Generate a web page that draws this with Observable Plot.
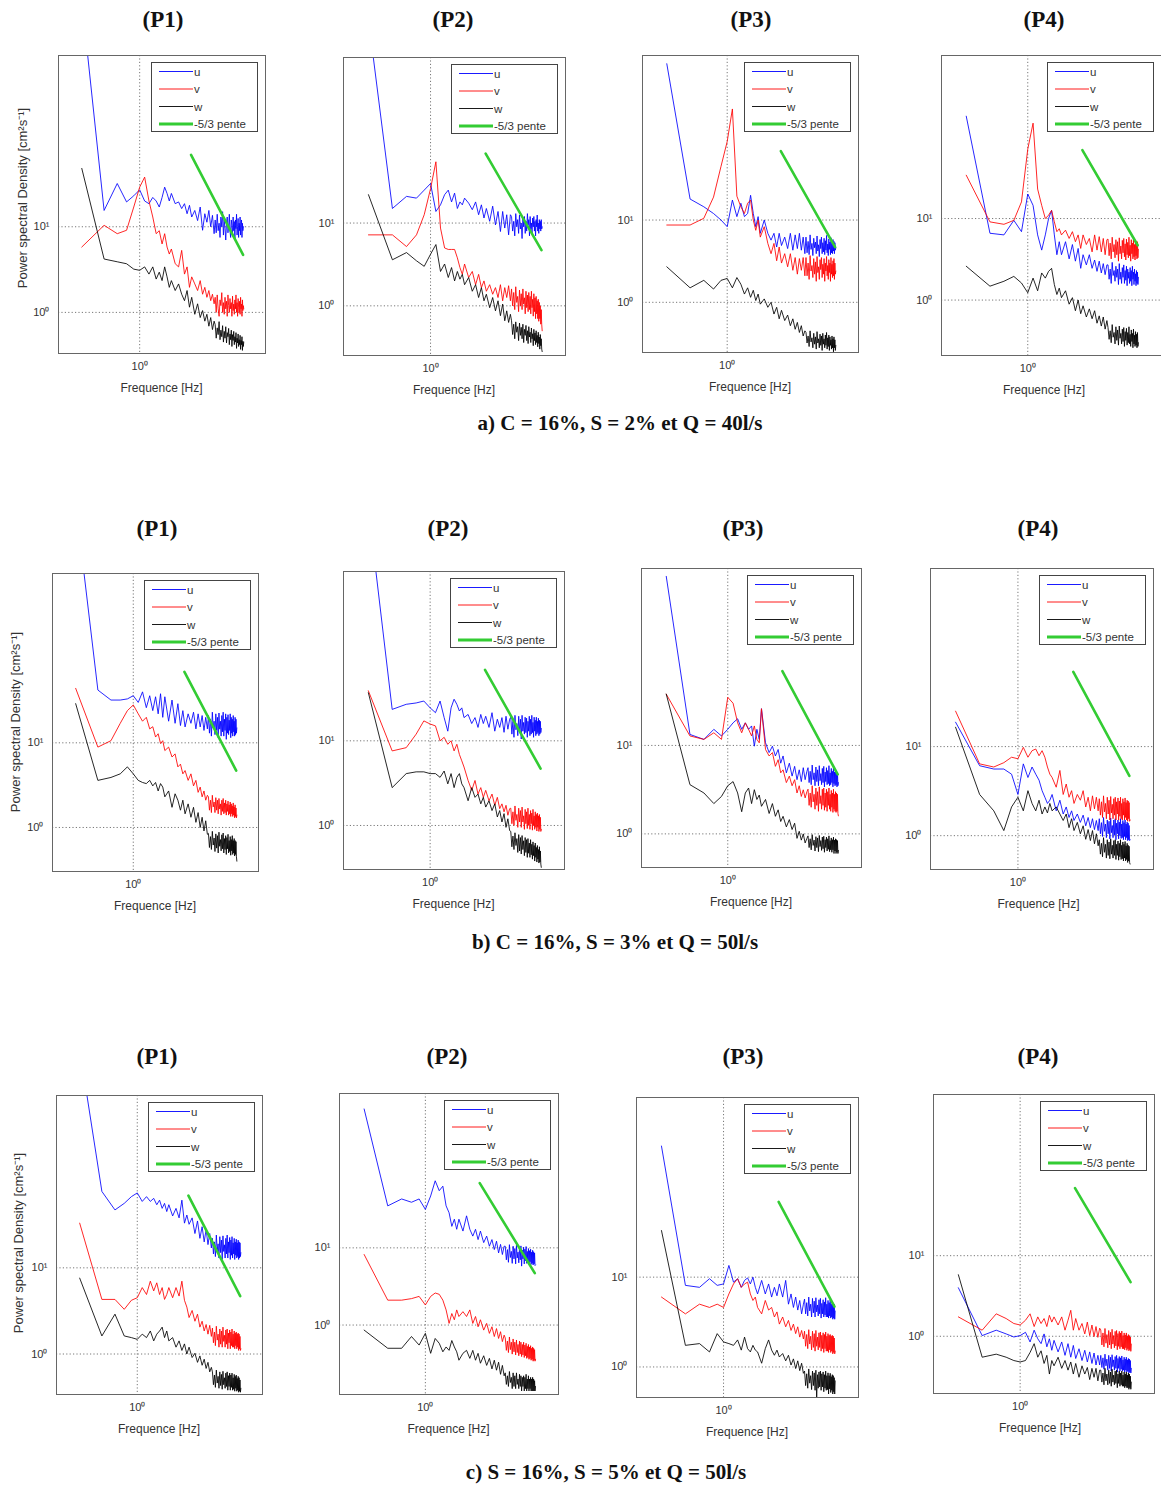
<!DOCTYPE html>
<html><head><meta charset="utf-8">
<script src="https://cdn.jsdelivr.net/npm/d3@7"></script>
<script src="https://cdn.jsdelivr.net/npm/@observablehq/plot@0.6"></script>
<style>
html,body{margin:0;padding:0;background:#fff;}
#root{position:relative;width:1161px;height:1488px;overflow:hidden;background:#fff;font-family:"Liberation Sans",Arial,sans-serif;}
.ptitle{position:absolute;font-family:"Liberation Serif","Times New Roman",serif;font-weight:bold;font-size:23px;color:#111;transform:translate(-50%,-50%);white-space:nowrap;}
.caption{position:absolute;font-family:"Liberation Serif","Times New Roman",serif;font-weight:bold;font-size:21px;color:#111;transform:translate(-50%,-50%);white-space:nowrap;}
.xlabel{position:absolute;font-size:12px;color:#333;transform:translate(-50%,-50%);white-space:nowrap;}
.ylabel{position:absolute;font-size:13px;color:#333;transform:translate(-50%,-50%) rotate(-90deg);white-space:nowrap;}
</style></head>
<body><div id="root"></div>
<script>
// ---------- DATA ----------
const FREQ = [0.167,0.333,0.5,0.667,0.833,1,1.167,1.333,1.5,1.667,1.833,2,2.167,2.333,2.5,2.667,
  3,3.333,3.667,4,4.333,4.667,5,
  5.5,6,6.5,7,7.5,8,8.5,9,9.5,10,
  10.333,10.667,11,11.333,11.667,12,12.333,12.667,13,13.333,13.667,14,14.333,14.667,15,15.333,15.667,16,16.333,16.667,17,17.333,17.667,18,18.333,18.667,19,19.333,19.667,20,20.333,20.667,21,21.333,21.667,22,22.333,22.667,23,23.333,23.667,24,24.333,24.667,25];

const SERIES_NAMES = ["u", "v", "w"];
const SLOPE_LABEL = "-5/3 pente";
const GREEN_F = [4.9, 24.5];
const GREEN_PSD = [69, 4.7];

const PANEL_TITLES = ["(P1)", "(P2)", "(P3)", "(P4)"];
const ROW_CAPTIONS = ["a) C = 16%, S = 2% et Q = 40l/s", "b) C = 16%, S = 3% et Q = 50l/s", "c) S = 16%, S = 5% et Q = 50l/s"];
const X_LABEL = "Frequence [Hz]";
const Y_LABEL = "Power spectral Density [cm²s⁻¹]";
const X_TICKS = [1];
const Y_TICKS = [1, 10];
const TICK_TEXT = {1: "10⁰", 10: "10¹"};

// Row a
const A1_U = [4500,15.5,32,19.5,23,27, 20,18.6,22,20,17,22,29,24.5,20,24.5, 18.6,19.5,16.3,18.6,14.2,17.8,13, 15.5,11.8,17,9.1,14.2,11.3,15.5,10,13.6,8.3,
  12,8.5,14,9,11,7.5,13,10,15,8, 12,9.5,7,11,13,8.5,10,14,9,7.5, 12,10.5,8,13,9,11.5,7,12,9.5,14, 8,10,12.5,7.5,11,9,13,8,10.5,12, 7.5,11,9,10,10];
const A1_V = [5.8,10.4,8.3,9.1,17,29, 38,20,13,8.3,9,6.3,8.3,5.8,4.8,5.5, 3.7,3.4,5.3,2.8,3.4,1.96,2.6, 2.15,1.8,2.35,1.63,1.96,1.5,1.8,1.37,1.63,1.26,
  1.5,1.0,1.6,1.1,0.9,1.4,1.2,1.7,1.0,1.3, 0.95,1.5,1.1,1.35,0.9,1.6,1.2,1.0,1.45,1.1, 1.3,0.9,1.55,1.05,1.25,0.95,1.4,1.1,1.6,1.0, 1.3,0.9,1.45,1.15,1.0,1.35,0.95,1.5,1.1,1.25, 0.9,1.4,1.05,1.2,1.1];
const A1_W = [48,4.2,3.9,3.7,3.2,3.1, 3.4,2.8,3.4,2.45,2.95,2.35,3.4,2.6,1.96,2.35, 1.8,2.15,1.63,1.37,1.8,1.15,1.5, 0.95,1.26,0.87,1.05,0.79,0.95,0.69,0.87,0.63,0.79,
  0.72,0.5,0.66,0.55,0.78,0.48,0.62,0.52,0.7,0.45, 0.6,0.5,0.68,0.44,0.58,0.52,0.65,0.42,0.56,0.48, 0.62,0.4,0.55,0.47,0.6,0.42,0.52,0.45,0.58,0.38, 0.5,0.44,0.56,0.4,0.48,0.42,0.54,0.37,0.47,0.42, 0.52,0.36,0.46,0.4,0.45];

const A2_U = [2900,15,21,20,25,30, 13.8,16.6,22,25,18,23,15,18,16.6,20, 17.4,14.5,18,12.6,16.6,11.5,15, 10.5,16,9.5,13.8,7.9,13.8,8.7,12.6,7.2,12.6,
  12,8,10.5,7,13,9,11,7.5,12.5,8.5, 10,6.5,11.5,9,12,7.5,10.5,8,13,9.5, 11,7,12,8.5,10,7.5,11.5,9,12,8, 10.5,7,11,9,12.5,8,10,7.5,11,8.5, 10.5,8,11,8.5,9];
const A2_V = [7.2,7.2,5.2,7.2,12.6,26, 55,8.7,5.0,4.8,4.8,4.8,3.8,2.9,2.4,3.2, 2.2,2.6,1.8,2.4,1.66,2.0,1.5, 1.8,1.38,1.66,1.26,1.8,1.15,1.66,1.26,1.75,1.15,
  1.6,1.0,1.45,0.9,1.7,1.1,1.3,0.85,1.55,1.0, 1.4,0.9,1.6,1.05,1.25,0.8,1.5,0.95,1.35,0.85, 1.45,0.9,1.3,0.8,1.5,0.95,1.2,0.75,1.4,0.85, 1.25,0.7,1.3,0.8,1.15,0.7,1.2,0.65,1.1,0.7, 1.0,0.6,0.9,0.6,0.5];
const A2_W = [22,3.6,4.4,3.5,3.0,4.2, 5.5,2.6,3.2,2.2,2.9,2.0,2.6,2.1,2.4,1.8, 2.2,1.5,1.8,1.26,1.66,1.15,1.38, 0.95,1.26,0.87,1.15,0.76,1.05,0.66,0.87,0.63,0.79,
  0.66,0.45,0.6,0.4,0.64,0.48,0.56,0.38,0.62,0.44, 0.55,0.4,0.6,0.36,0.52,0.44,0.58,0.38,0.5,0.35, 0.56,0.42,0.48,0.36,0.54,0.4,0.46,0.33,0.52,0.38, 0.47,0.34,0.5,0.36,0.44,0.32,0.48,0.35,0.42,0.3, 0.45,0.33,0.4,0.3,0.28];

const A3_U = [794,18,14.5,12,10,8.3, 17.5,11,16,11,12,20,12,8.3,11,6.9, 10,6.9,5.7,6.9,4.7,6.9,4.9, 6.2,4.5,6.9,4.3,6.6,4.5,6.9,4.3,6.2,3.9,
  6.2,4.0,5.5,3.8,6.6,4.4,5.2,3.7,6.0,4.6, 5.4,3.9,6.4,4.2,5.0,3.6,5.8,4.5,6.2,3.9, 5.3,4.1,6.0,3.8,5.6,4.3,6.5,4.0,5.1,3.7, 5.9,4.4,5.4,3.8,6.1,4.0,5.2,3.9,5.8,4.2, 5.5,3.9,5.3,4.3,4.6];
const A3_V = [8.7,8.7,10.5,19,45,90, 224,19.5,14.5,12,16,17.5,10,7.5,10,6.2, 8.3,5.2,3.9,5.2,3.2,4.7,3.0, 3.9,2.7,3.9,2.45,3.5,2.2,3.4,2.45,3.5,2.1,
  3.5,2.1,3.0,1.9,3.7,2.4,2.8,2.0,3.4,2.2, 3.1,1.8,3.6,2.3,2.7,1.9,3.3,2.5,3.5,2.0, 2.9,2.2,3.4,1.8,3.0,2.4,3.6,2.1,2.8,1.9, 3.3,2.3,3.0,1.8,3.5,2.2,2.9,2.0,3.2,2.1, 3.4,1.9,3.0,2.2,2.4];
const A3_W = [2.7,1.5,1.85,1.45,1.85,1.95, 1.5,2.0,1.66,1.26,1.5,1.15,1.4,1.05,1.26,0.95, 1.1,0.87,1.0,0.72,0.87,0.63,0.8, 0.6,0.7,0.52,0.63,0.47,0.57,0.43,0.52,0.39,0.45,
  0.43,0.32,0.39,0.29,0.45,0.33,0.37,0.28,0.42,0.31, 0.38,0.27,0.44,0.32,0.36,0.28,0.41,0.3,0.39,0.26, 0.42,0.31,0.36,0.28,0.4,0.3,0.43,0.27,0.37,0.29, 0.4,0.26,0.38,0.3,0.35,0.27,0.39,0.28,0.36,0.25, 0.38,0.28,0.35,0.26,0.3];

const A4_U = [180,6.6,6.3,9.5,6.9,20, 14.5,6.3,4.1,6.3,10,12.6,6.3,3.6,5.2,3.6, 5.2,3.2,4.8,3.0,4.3,2.45,3.6, 2.7,3.6,2.45,3.1,2.25,3.0,2.15,2.8,2.05,2.7,
  2.7,1.8,2.4,1.6,2.9,2.0,2.3,1.7,2.6,1.9, 2.4,1.55,2.8,1.8,2.2,1.6,2.5,1.9,2.7,1.6, 2.3,1.75,2.6,1.5,2.4,1.85,2.2,1.6,2.5,1.7, 2.3,1.5,2.6,1.8,2.2,1.55,2.4,1.7,2.1,1.5, 2.3,1.6,2.2,1.55,1.9];
const A4_V = [34,9.1,8.5,9.5,16,71, 148,23,14.5,10,11,12.6,9.1,6.9,7.5,6.3, 7.2,5.7,6.9,5.2,6.3,4.3,6.3, 4.8,5.7,3.9,6.3,4.1,6.0,3.9,5.7,3.6,5.5,
  5.6,3.5,5.0,3.2,5.9,3.9,4.8,3.3,5.5,3.6, 5.2,3.0,5.8,3.7,4.6,3.2,5.4,3.8,5.7,3.4, 4.9,3.1,5.6,3.6,5.1,3.3,5.9,3.5,4.7,3.0, 5.5,3.7,5.0,3.2,5.6,3.4,4.8,3.1,5.3,3.5, 5.0,3.2,5.2,3.3,4.2];
const A4_W = [2.6,1.48,1.7,1.95,1.62,1.23, 1.86,1.3,2.15,1.86,2.25,2.45,1.55,1.17,1.4,1.07, 1.3,0.89,1.07,0.74,1.0,0.68,0.85, 0.62,0.78,0.59,0.74,0.52,0.64,0.48,0.62,0.44,0.56,
  0.46,0.33,0.42,0.3,0.5,0.35,0.4,0.29,0.47,0.32, 0.43,0.28,0.48,0.34,0.39,0.29,0.44,0.31,0.46,0.27, 0.41,0.32,0.45,0.28,0.4,0.3,0.47,0.29,0.38,0.27, 0.43,0.31,0.39,0.26,0.44,0.29,0.37,0.27,0.41,0.28, 0.38,0.26,0.4,0.27,0.3];

// Row b
const B1_U = [6800,42,32,32,33,36, 30,40,26,36,24,35,22,38,20,35, 18,32,17,29,16,24,15.4, 22,17,23,14.6,22,15.4,21,14,20,14.6,
  21,13,19,12,23,15,18,12.5,22,14, 20,11.5,22.5,14.5,18,12,21,13.5,23,12, 19,14,22,11,20,13,21.5,12.5,18.5,14, 22,11.5,20,13,19,12,21,13.5,18,12, 20,12.5,19,13,15];
const B1_V = [44,8.9,10.6,17,24,28, 22,18,20,14.6,15.5,11.7,12.8,9.8,10.6,8.1, 8.9,6.8,7.4,5.2,5.6,4.3,4.7, 3.6,4.3,3.1,3.6,2.6,3.0,2.3,2.7,2.1,2.4,
  2.3,1.6,2.1,1.5,2.4,1.75,2.0,1.5,2.25,1.6, 2.1,1.45,2.2,1.65,1.9,1.4,2.1,1.55,2.2,1.45, 1.95,1.5,2.1,1.4,1.9,1.55,2.05,1.4,1.85,1.45, 2.0,1.35,1.9,1.45,1.8,1.35,1.95,1.4,1.75,1.3, 1.85,1.35,1.7,1.3,1.4];
const B1_W = [29,3.6,3.9,4.3,5.2,4.3, 3.6,3.4,3.3,3.6,3.1,3.4,2.7,3.3,3.0,2.3, 2.7,1.73,2.5,2.1,1.6,2.1,1.45, 1.9,1.32,1.73,1.15,1.5,1.0,1.32,0.91,1.2,0.83,
  0.85,0.58,0.78,0.55,0.9,0.62,0.75,0.52,0.84,0.57, 0.8,0.5,0.88,0.6,0.72,0.53,0.82,0.56,0.86,0.5, 0.74,0.55,0.8,0.48,0.76,0.56,0.83,0.5,0.7,0.52, 0.78,0.47,0.72,0.53,0.8,0.48,0.7,0.5,0.74,0.46, 0.7,0.48,0.68,0.45,0.4];

const B2_U = [5700,23.5,27,28,29.5,24.5, 21.5,29.5,18.8,13,24.5,31,27,22.5,24.5,18.8, 20.5,16,18.8,14.4,20.5,16,19.5, 14.4,21.5,13,18,14.4,18.8,12.6,19.5,13.7,18,
  19,12,17,11,20,13.5,16,11.5,19.5,12.5, 18,10.5,20,13,16.5,12,19,12.5,18.5,11, 17,13,19.5,11.5,18,12,20,12.5,16.5,11, 19,13,17.5,11.5,19,12,17,12.5,18.5,11.5, 17.5,12,17,12.5,14];
const B2_V = [39,7.6,8.3,12,17.2,15.8, 15,10,11,9.1,10,7.6,9.1,6.9,5.8,4.9, 3.4,2.6,3.4,2.35,2.8,2.15,2.6, 1.96,2.35,1.73,2.15,1.58,1.8,1.45,1.73,1.32,1.58,
  1.6,1.05,1.45,1.0,1.7,1.15,1.35,0.95,1.6,1.1, 1.5,0.95,1.65,1.1,1.3,0.9,1.55,1.05,1.45,0.92, 1.6,1.0,1.35,0.9,1.5,1.05,1.4,0.88,1.55,1.0, 1.3,0.9,1.45,0.95,1.35,0.86,1.4,0.95,1.3,0.85, 1.35,0.9,1.25,0.85,0.9];
const B2_W = [37,2.8,4.1,4.3,4.3,4.1, 4.1,3.7,4.4,3.1,4.1,2.8,3.7,4.1,3.1,2.8, 1.96,2.8,2.15,2.35,1.8,2.15,1.65, 1.96,1.5,1.8,1.26,1.5,1.1,1.38,0.95,1.2,0.87,
  0.85,0.56,0.75,0.52,0.82,0.58,0.7,0.48,0.78,0.5, 0.72,0.46,0.76,0.52,0.66,0.44,0.72,0.48,0.68,0.42, 0.7,0.47,0.62,0.42,0.68,0.45,0.6,0.4,0.64,0.44, 0.58,0.38,0.62,0.42,0.55,0.37,0.58,0.4,0.52,0.36, 0.56,0.37,0.5,0.35,0.32];

const B3_U = [815,13.3,11.7,15.2,12.8,15.2, 18,20,15.2,18,15.2,16.6,9.8,15.2,11.7,26, 10.7,8.3,9.8,7.6,9.0,6.3,7.6, 4.9,6.3,4.5,5.8,4.1,5.3,3.9,5.6,4.1,5.1,
  5.6,3.8,5.1,3.6,6.0,4.1,4.9,3.5,5.7,3.9, 5.3,3.5,5.9,4.0,4.8,3.6,5.5,3.8,5.8,3.4, 5.0,3.9,5.6,3.6,5.2,3.7,5.9,3.5,4.9,3.6, 5.5,3.8,5.1,3.4,5.7,3.7,5.0,3.5,5.4,3.6, 5.1,3.4,5.0,3.5,3.8];
const B3_V = [38,12.8,11.7,13.9,11.7,35, 30,18,13.9,18,15.2,12.8,16.6,11.7,10.7,26, 9.0,7.6,8.3,5.8,6.9,4.9,5.3, 3.8,4.5,3.5,4.1,2.9,3.5,2.65,3.15,2.55,3.0,
  3.2,2.1,2.9,2.0,3.5,2.3,2.8,1.9,3.3,2.1, 3.0,1.8,3.4,2.2,2.7,1.9,3.2,2.1,3.3,1.85, 2.9,2.0,3.2,1.8,3.0,2.1,3.3,1.9,2.8,1.8, 3.1,2.0,2.9,1.75,3.2,1.9,2.8,1.8,3.0,1.75, 2.9,1.8,2.8,1.7,1.6];
const B3_W = [38,3.6,2.9,2.2,2.65,3.5, 3.9,2.9,1.78,2.9,3.3,2.2,3.16,2.45,2.75,2.05, 2.45,1.7,2.2,1.58,1.87,1.38,1.58, 1.2,1.45,1.12,1.32,0.89,1.07,0.85,1.0,0.79,0.89,
  0.95,0.7,0.88,0.66,0.98,0.74,0.85,0.64,0.93,0.7, 0.9,0.63,0.96,0.72,0.84,0.65,0.92,0.68,0.94,0.62, 0.86,0.7,0.92,0.64,0.88,0.67,0.95,0.63,0.84,0.66, 0.9,0.62,0.86,0.66,0.92,0.6,0.85,0.64,0.88,0.6, 0.86,0.62,0.84,0.6,0.65];

const B4_U = [18.8,6.1,5.6,5.6,4.9,2.9, 6.4,4.5,5.9,4.9,4.2,3.2,2.7,2.3,2.5,2.9, 1.9,2.5,1.75,2.1,1.6,1.9,1.48, 1.75,1.41,1.7,1.29,1.6,1.23,1.55,1.17,1.48,1.14,
  1.55,1.05,1.4,0.98,1.6,1.12,1.35,0.95,1.5,1.05, 1.45,0.92,1.58,1.08,1.3,0.95,1.5,1.02,1.55,0.9, 1.38,1.05,1.5,0.92,1.42,1.0,1.55,0.93,1.35,0.95, 1.48,0.9,1.4,0.98,1.5,0.9,1.35,0.95,1.42,0.88, 1.38,0.9,1.3,0.88,0.9];
const B4_V = [25,6.4,5.9,6.6,7.6,7.3, 9.8,7.6,9.0,9.4,7.9,9.0,7.6,5.9,4.9,4.5, 3.5,5.4,2.9,3.8,2.7,3.2,2.3, 2.9,2.5,3.2,2.1,2.7,1.9,2.8,2.0,2.7,1.9,
  2.6,1.7,2.4,1.6,2.8,1.85,2.3,1.55,2.7,1.75, 2.5,1.5,2.75,1.8,2.25,1.55,2.6,1.7,2.7,1.5, 2.4,1.75,2.65,1.5,2.45,1.65,2.7,1.55,2.3,1.5, 2.6,1.7,2.4,1.5,2.65,1.6,2.35,1.5,2.5,1.45, 2.45,1.55,2.35,1.45,1.5];
const B4_W = [16.5,2.9,1.9,1.14,2.1,2.7, 1.9,3.2,2.3,1.9,2.5,1.75,2.1,1.8,2.3,1.9, 2.1,1.75,1.48,1.75,1.23,1.55,1.14, 1.41,1.05,1.29,0.91,1.17,0.88,1.14,0.81,1.05,0.77,
  0.9,0.62,0.82,0.58,0.95,0.65,0.8,0.56,0.9,0.6, 0.85,0.55,0.92,0.62,0.78,0.56,0.88,0.6,0.9,0.54, 0.8,0.6,0.87,0.53,0.82,0.58,0.9,0.54,0.78,0.55, 0.85,0.52,0.8,0.56,0.86,0.52,0.77,0.54,0.82,0.5, 0.78,0.52,0.76,0.5,0.48];

// Row c
const C1_U = [3500,77,47,56,67,74, 59,67,59,64,54,61,49,56,45,54, 40,49,38,61,33,41,32, 38,25,35,22,30,20,28,18.6,25,17,
  22,14.5,20,13.5,24,16,19,13,23,15, 21,12.5,23.5,15.5,18.5,13,22,14.5,24,13, 20,15,22.5,12.5,21,14,23,13,19.5,14.5, 22,12.5,20,14,21.5,13,19.5,13.5,21,12.5, 20,13,19.5,13.5,15];
const C1_V = [33,4.3,4.3,3.3,4.2,4.5, 5.9,4.9,7.0,5.4,6.7,4.9,5.9,4.3,4.9,5.9, 4.5,5.9,4.7,7.0,4.2,3.5,2.65, 3.2,2.4,2.9,2.05,2.4,1.85,2.2,1.7,2.15,1.6,
  2.0,1.35,1.8,1.25,2.1,1.45,1.7,1.2,1.95,1.3, 1.85,1.2,2.05,1.4,1.65,1.2,1.9,1.3,1.95,1.15, 1.75,1.35,1.9,1.15,1.8,1.25,1.95,1.2,1.7,1.2, 1.85,1.15,1.75,1.25,1.8,1.15,1.7,1.2,1.75,1.1, 1.7,1.15,1.6,1.1,1.15];
const C1_W = [7.6,1.62,2.9,1.62,1.55,1.48, 1.7,1.55,1.85,1.42,1.7,1.85,2.05,1.55,1.85,1.42, 1.55,1.2,1.42,1.1,1.31,1.0,1.2, 0.91,1.02,0.8,0.95,0.74,0.87,0.68,0.8,0.62,0.7,
  0.62,0.44,0.57,0.41,0.65,0.46,0.55,0.4,0.62,0.43, 0.58,0.39,0.63,0.44,0.53,0.4,0.6,0.42,0.62,0.38, 0.56,0.42,0.6,0.38,0.57,0.41,0.6,0.38,0.53,0.39, 0.58,0.37,0.55,0.4,0.57,0.37,0.52,0.38,0.55,0.36, 0.53,0.37,0.5,0.36,0.4];

const C2_U = [630,35,43,39,43,31.5, 47,74,55,63,35,28.5,19,23.5,17.4,23.5, 16.5,26,17.4,14.2,17.4,12.8,16.5, 11.7,14.2,10.5,12.8,9.5,12.2,8.6,11.1,8.2,10.5,
  10.5,7,9.5,6.5,11,7.5,9,6.3,10.5,7.2, 9.8,6.2,10.8,7.4,8.8,6.4,10.2,7,10.6,5.8, 9.4,7.2,10.2,6.2,9.6,6.8,10.4,6.3,9,6.5, 9.8,6.1,9.2,6.6,9.6,6.1,8.8,6.3,9.3,6, 8.9,6.2,8.6,5.9,6];
const C2_V = [8.2,2.1,2.1,2.2,2.35,1.82, 2.35,2.6,2.5,2.1,1.57,1.05,1.41,1.17,1.57,1.29, 1.49,1.29,1.57,1.05,1.29,0.95,1.17, 0.86,1.05,0.78,0.95,0.71,0.9,0.67,0.82,0.61,0.74,
  0.68,0.47,0.62,0.44,0.7,0.48,0.6,0.42,0.66,0.45, 0.6,0.41,0.64,0.44,0.56,0.4,0.62,0.42,0.6,0.39, 0.56,0.41,0.6,0.38,0.55,0.4,0.58,0.37,0.53,0.38, 0.56,0.36,0.52,0.37,0.54,0.35,0.5,0.36,0.52,0.34, 0.5,0.35,0.48,0.34,0.36];
const C2_W = [0.86,0.5,0.5,0.71,0.55,0.78, 0.43,0.67,0.58,0.45,0.52,0.47,0.63,0.52,0.45,0.35, 0.43,0.47,0.37,0.47,0.35,0.43,0.32, 0.4,0.3,0.37,0.27,0.35,0.26,0.33,0.23,0.3,0.22,
  0.24,0.17,0.22,0.16,0.25,0.18,0.21,0.15,0.24,0.16, 0.22,0.15,0.24,0.17,0.2,0.15,0.23,0.16,0.22,0.14, 0.21,0.16,0.22,0.14,0.21,0.15,0.23,0.14,0.2,0.15, 0.22,0.14,0.2,0.15,0.21,0.14,0.2,0.14,0.21,0.14, 0.2,0.14,0.19,0.14,0.16];

const C3_U = [288,8.1,7.7,9.6,8.1,8.4, 13.5,8.8,9.6,7.7,9.2,9.8,8.4,10,7.7,6.5, 9.2,6.5,8.4,6.0,7.7,6.2,8.4, 6.0,9.2,5.0,6.5,4.6,6.0,4.3,5.5,3.9,5.0,
  5.7,3.9,5.2,3.7,6.0,4.2,5.0,3.6,5.8,4.0, 5.4,3.6,5.9,4.1,4.9,3.7,5.6,3.9,5.8,3.5, 5.1,3.9,5.6,3.6,5.3,3.8,5.9,3.6,5.0,3.6, 5.5,3.5,5.2,3.7,5.6,3.5,5.0,3.6,5.3,3.4, 5.1,3.5,5.0,3.4,4.2];
const C3_V = [6.0,3.9,5.0,4.6,5.0,4.6, 6.5,8.4,9.6,7.7,8.4,8.8,6.5,5.5,6.0,4.6, 3.9,5.5,4.3,4.6,3.6,4.1,3.0, 3.6,2.8,3.3,2.55,3.0,2.35,2.8,2.15,2.55,2.05,
  2.5,1.7,2.3,1.6,2.6,1.8,2.2,1.55,2.5,1.65, 2.35,1.5,2.55,1.7,2.15,1.55,2.4,1.65,2.45,1.5, 2.25,1.6,2.4,1.45,2.3,1.6,2.45,1.5,2.2,1.5, 2.35,1.45,2.25,1.55,2.3,1.45,2.2,1.5,2.25,1.4, 2.2,1.45,2.1,1.4,1.5];
const C3_W = [33,1.74,1.82,1.47,2.35,1.9, 1.82,1.74,2.0,1.54,2.15,1.6,1.47,1.74,1.54,1.47, 1.1,1.6,2.0,1.54,1.35,1.54,1.29, 1.41,1.17,1.35,1.05,1.23,0.96,1.17,0.91,1.1,0.85,
  0.9,0.62,0.84,0.58,0.95,0.66,0.8,0.56,0.9,0.62, 0.86,0.55,0.92,0.45,0.82,0.58,0.88,0.6,0.9,0.55, 0.84,0.6,0.88,0.53,0.82,0.58,0.9,0.55,0.8,0.56, 0.86,0.5,0.8,0.57,0.85,0.52,0.78,0.55,0.82,0.5, 0.8,0.53,0.76,0.5,0.7];

const C4_U = [4.0,1.02,1.19,1.07,0.98,1.02, 1.12,0.85,1.19,0.93,0.81,1.07,0.74,0.93,0.67,0.89, 0.64,0.85,0.58,0.81,0.55,0.77,0.53, 0.7,0.5,0.67,0.48,0.64,0.46,0.62,0.44,0.58,0.44,
  0.58,0.41,0.54,0.39,0.6,0.43,0.52,0.38,0.58,0.4, 0.55,0.37,0.59,0.42,0.51,0.38,0.56,0.4,0.58,0.36, 0.53,0.4,0.56,0.37,0.54,0.39,0.57,0.37,0.51,0.38, 0.55,0.36,0.52,0.38,0.55,0.36,0.51,0.37,0.53,0.35, 0.52,0.36,0.5,0.35,0.4];
const C4_V = [1.74,1.19,1.9,1.66,1.44,1.38, 1.58,1.9,1.32,1.74,1.44,1.66,1.32,1.82,1.5,1.74, 1.38,1.74,1.19,1.58,2.1,1.19,1.66, 1.19,1.44,1.07,1.5,1.02,1.38,0.99,1.32,0.97,1.26,
  1.2,0.78,1.1,0.74,1.25,0.82,1.05,0.72,1.18,0.78, 1.12,0.7,1.22,0.8,1.02,0.72,1.15,0.76,1.18,0.68, 1.08,0.75,1.15,0.7,1.1,0.74,1.16,0.7,1.02,0.7, 1.1,0.68,1.04,0.72,1.1,0.67,1.0,0.7,1.05,0.66, 1.02,0.68,0.98,0.65,0.8];
const C4_W = [5.8,0.55,0.6,0.55,0.5,0.48, 0.5,0.63,0.81,0.55,0.66,0.46,0.58,0.34,0.5,0.43, 0.55,0.4,0.5,0.38,0.48,0.34,0.46, 0.31,0.43,0.34,0.41,0.29,0.4,0.31,0.4,0.28,0.38,
  0.38,0.27,0.35,0.25,0.4,0.28,0.34,0.25,0.38,0.26, 0.36,0.24,0.39,0.27,0.33,0.25,0.37,0.26,0.38,0.23, 0.34,0.26,0.37,0.24,0.35,0.25,0.37,0.24,0.33,0.24, 0.36,0.23,0.34,0.24,0.36,0.23,0.33,0.23,0.35,0.22, 0.34,0.23,0.32,0.22,0.27];

// ---------- LAYOUT (pixel boxes of each plot frame, y-domain lower bound exponent) ----------
const PANELS = [
  {row:0,col:0,L:58, T:55, R:265, B:353, yb:-0.48, u:A1_U, v:A1_V, w:A1_W},
  {row:0,col:1,L:343,T:57, R:565, B:355, yb:-0.60, u:A2_U, v:A2_V, w:A2_W},
  {row:0,col:2,L:642,T:55, R:858, B:352, yb:-0.61, u:A3_U, v:A3_V, w:A3_W},
  {row:0,col:3,L:941,T:55, R:1161,B:355, yb:-0.68, u:A4_U, v:A4_V, w:A4_W},
  {row:1,col:0,L:52, T:573,R:258, B:871, yb:-0.52, u:B1_U, v:B1_V, w:B1_W},
  {row:1,col:1,L:343,T:571,R:564, B:869, yb:-0.52, u:B2_U, v:B2_V, w:B2_W},
  {row:1,col:2,L:641,T:568,R:861, B:867, yb:-0.38, u:B3_U, v:B3_V, w:B3_W},
  {row:1,col:3,L:930,T:568,R:1153,B:869, yb:-0.38, u:B4_U, v:B4_V, w:B4_W},
  {row:2,col:0,L:56, T:1095,R:262,B:1394,yb:-0.47, u:C1_U, v:C1_V, w:C1_W},
  {row:2,col:1,L:339,T:1093,R:558,B:1394,yb:-0.90, u:C2_U, v:C2_V, w:C2_W},
  {row:2,col:2,L:636,T:1097,R:858,B:1397,yb:-0.34, u:C3_U, v:C3_V, w:C3_W},
  {row:2,col:3,L:933,T:1094,R:1154,B:1393,yb:-0.71, u:C4_U, v:C4_V, w:C4_W}
];
const TITLE_POS = [[163,20],[453,20],[751,20],[1044,20],[157,529],[448,529],[743,529],[1038,529],[157,1057],[447,1057],[743,1057],[1038,1057]];
const CAPTION_POS = [[620,423],[615,942],[606,1472]];
const YLABEL_POS = [[22,198],[15,722],[18,1243]];
const X_DOMAIN = [Math.pow(10,-1.09), Math.pow(10,1.69)];
const COLORS = {u:"#0000ff", v:"#ff0000", w:"#000000", green:"#33cc33"};
const M = {l:42, r:4, t:4, b:30};

const root = document.getElementById("root");
function addDiv(cls, text, x, y) {
  const d = document.createElement("div");
  d.className = cls; d.textContent = text;
  d.style.left = x + "px"; d.style.top = y + "px";
  root.appendChild(d);
  return d;
}

const rowsOf = s => s.map((v, i) => ({f: FREQ[i], psd: v})).filter(d => d.f !== undefined);
const greenRows = GREEN_F.map((f, i) => ({f, psd: GREEN_PSD[i]}));

PANELS.forEach((p, idx) => {
  const W = p.R - p.L, H = p.B - p.T;
  const chart = Plot.plot({
    width: W + M.l + M.r, height: H + M.t + M.b,
    marginLeft: M.l, marginRight: M.r, marginTop: M.t, marginBottom: M.b,
    style: {fontFamily: "'Liberation Sans', Arial, sans-serif", fontSize: "11px", color: "#333", background: "transparent", overflow: "visible"},
    x: {type: "log", domain: X_DOMAIN, ticks: X_TICKS, tickFormat: d => TICK_TEXT[d], tickSize: 0, tickPadding: 9, label: null},
    y: {type: "log", domain: [Math.pow(10, p.yb), 1000], ticks: Y_TICKS, tickFormat: d => TICK_TEXT[d], tickSize: 0, tickPadding: 9, label: null},
    marks: [
      Plot.ruleY(Y_TICKS, {stroke: "#555", strokeWidth: 0.8, strokeDasharray: "1.2,2.2"}),
      Plot.ruleX(X_TICKS, {stroke: "#555", strokeWidth: 0.8, strokeDasharray: "1.2,2.2"}),
      Plot.line(rowsOf(p.u), {x: "f", y: "psd", stroke: COLORS.u, strokeWidth: 0.85, clip: true}),
      Plot.line(rowsOf(p.v), {x: "f", y: "psd", stroke: COLORS.v, strokeWidth: 0.85, clip: true}),
      Plot.line(rowsOf(p.w), {x: "f", y: "psd", stroke: COLORS.w, strokeWidth: 0.85, clip: true}),
      Plot.line(greenRows, {x: "f", y: "psd", stroke: COLORS.green, strokeWidth: 2.6, clip: true}),
      Plot.frame({stroke: "#666", strokeWidth: 1})
    ]
  });
  chart.style.position = "absolute";
  chart.style.left = (p.L - M.l) + "px";
  chart.style.top = (p.T - M.t) + "px";
  root.appendChild(chart);

  // legend box
  const LW = 107, LH = 70;
  const lx = Math.min(p.R, 1161) - 7 - LW, ly = p.T + 7;
  const ns = "http://www.w3.org/2000/svg";
  const lg = document.createElementNS(ns, "svg");
  lg.setAttribute("width", LW); lg.setAttribute("height", LH);
  lg.style.position = "absolute"; lg.style.left = lx + "px"; lg.style.top = ly + "px";
  const rect = document.createElementNS(ns, "rect");
  rect.setAttribute("x", 0.5); rect.setAttribute("y", 0.5); rect.setAttribute("width", LW - 1); rect.setAttribute("height", LH - 1);
  rect.setAttribute("fill", "#fff"); rect.setAttribute("stroke", "#444"); rect.setAttribute("stroke-width", 1);
  lg.appendChild(rect);
  const entries = [[SERIES_NAMES[0], COLORS.u, 0.9], [SERIES_NAMES[1], COLORS.v, 0.9], [SERIES_NAMES[2], COLORS.w, 0.9], [SLOPE_LABEL, COLORS.green, 2.8]];
  entries.forEach((e, i) => {
    const yy = 9.5 + i * 17.5;
    const ln = document.createElementNS(ns, "line");
    ln.setAttribute("x1", 8); ln.setAttribute("x2", 42); ln.setAttribute("y1", yy); ln.setAttribute("y2", yy);
    ln.setAttribute("stroke", e[1]); ln.setAttribute("stroke-width", e[2]);
    lg.appendChild(ln);
    const tx = document.createElementNS(ns, "text");
    tx.setAttribute("x", 43); tx.setAttribute("y", yy + 4);
    tx.setAttribute("font-size", "11.5"); tx.setAttribute("font-family", "'Liberation Sans', Arial, sans-serif");
    tx.setAttribute("fill", "#333");
    tx.textContent = e[0];
    lg.appendChild(tx);
  });
  root.appendChild(lg);

  // titles and labels
  addDiv("ptitle", PANEL_TITLES[p.col], TITLE_POS[idx][0], TITLE_POS[idx][1]);
  const cx = (p.L + Math.min(p.R, 1147)) / 2;
  addDiv("xlabel", X_LABEL, cx, p.B + 35);
  if (p.col === 0) addDiv("ylabel", Y_LABEL, YLABEL_POS[p.row][0], YLABEL_POS[p.row][1]);
});

ROW_CAPTIONS.forEach((c, i) => addDiv("caption", c, CAPTION_POS[i][0], CAPTION_POS[i][1]));
</script>
</body></html>
